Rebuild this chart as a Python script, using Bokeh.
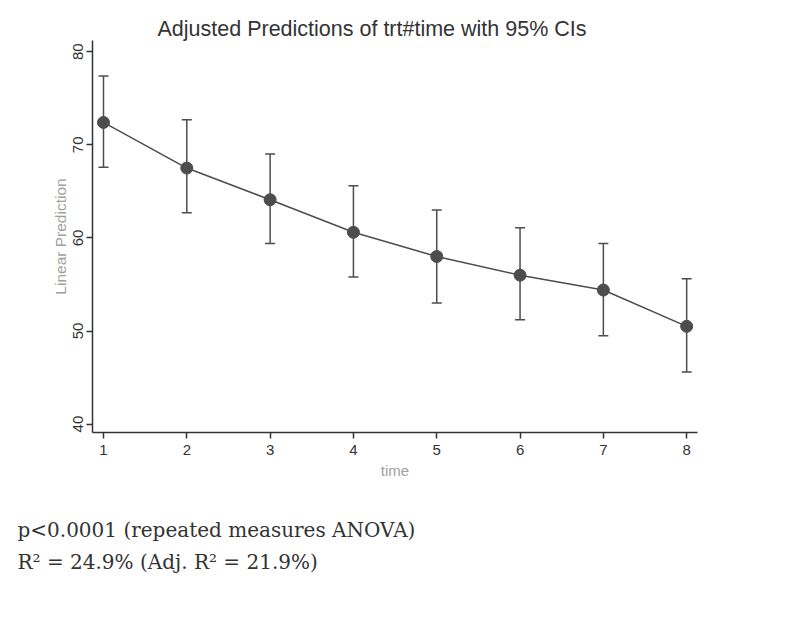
from bokeh.plotting import figure
from bokeh.models import Range1d, Whisker, ColumnDataSource, Title, FixedTicker
from bokeh.embed import file_html
from bokeh.resources import INLINE

time = [1, 2, 3, 4, 5, 6, 7, 8]
margin = [72.4, 67.5, 64.1, 60.6, 58.0, 56.0, 54.4, 50.5]
upper = [77.4, 72.7, 69.0, 65.6, 63.0, 61.1, 59.4, 55.6]
lower = [67.6, 62.7, 59.4, 55.8, 53.0, 51.2, 49.5, 45.6]
y_ticks = [40, 50, 60, 70, 80]

title_text = "Adjusted Predictions of trt#time with 95% CIs"
note1 = "p<0.0001 (repeated measures ANOVA)"
note2 = "R\u00b2 = 24.9% (Adj. R\u00b2 = 21.9%)"

src = ColumnDataSource(dict(time=time, margin=margin, upper=upper, lower=lower))

W, H = 777, 614
p = figure(width=W, height=H, output_backend="svg", toolbar_location=None,
           x_range=Range1d(0.868, 8.13), y_range=Range1d(39.1, 81.2),
           min_border_left=92, min_border_right=80, min_border_top=40,
           min_border_bottom=182)
p.outline_line_color = None
p.xgrid.visible = False
p.ygrid.visible = False
p.background_fill_color = "white"
p.border_fill_color = "white"

col = "#4d4d4d"
w = Whisker(source=src, base="time", upper="upper", lower="lower",
            line_color=col, line_width=1.5)
for head in (w.upper_head, w.lower_head):
    head.size = 10
    head.line_color = col
    head.line_width = 1.5
p.add_layout(w)
p.line("time", "margin", source=src, line_color=col, line_width=1.5)
p.scatter("time", "margin", source=src, size=12, fill_color=col, line_color=col)

for ax in (p.xaxis[0], p.yaxis[0]):
    ax.axis_line_color = "#333333"
    ax.axis_line_width = 1.5
    ax.major_tick_line_color = "#333333"
    ax.major_tick_line_width = 1.5
    ax.major_tick_out = 6
    ax.major_tick_in = 0
    ax.minor_tick_line_color = None
    ax.major_label_text_font = "Liberation Sans"
    ax.major_label_text_color = "#333333"
    ax.axis_label_text_font = "Liberation Sans"
    ax.axis_label_text_color = "#a0a0a0"
    ax.axis_label_text_font_style = "normal"

p.xaxis.ticker = FixedTicker(ticks=time)
p.xaxis.major_label_text_font_size = "15px"
p.xaxis.major_label_standoff = 6
p.xaxis.axis_label = "time"
p.xaxis.axis_label_text_font_size = "15px"
p.xaxis.axis_label_standoff = 4

p.yaxis.ticker = FixedTicker(ticks=y_ticks)
p.yaxis.major_label_orientation = "vertical"
p.yaxis.major_label_text_font_size = "15px"
p.yaxis.major_label_standoff = 3
p.yaxis.axis_label = "Linear Prediction"
p.yaxis.axis_label_text_font_size = "15.5px"
p.yaxis.axis_label_standoff = 2

p.title.text = title_text
p.title.align = "left"
p.title.offset = 65
p.title.text_font = "Liberation Sans"
p.title.text_font_size = "21.5px"
p.title.text_font_style = "normal"
p.title.text_color = "#333333"
p.title.standoff = 0

notes = Title(text=note1 + "\n" + note2, align="left", offset=-75, standoff=70,
              text_font="DejaVu Serif", text_font_size="20px",
              text_font_style="normal", text_color="#333333",
              text_line_height=1.35)
p.add_layout(notes, "below")

open("out.html", "w").write(file_html(p, INLINE))
